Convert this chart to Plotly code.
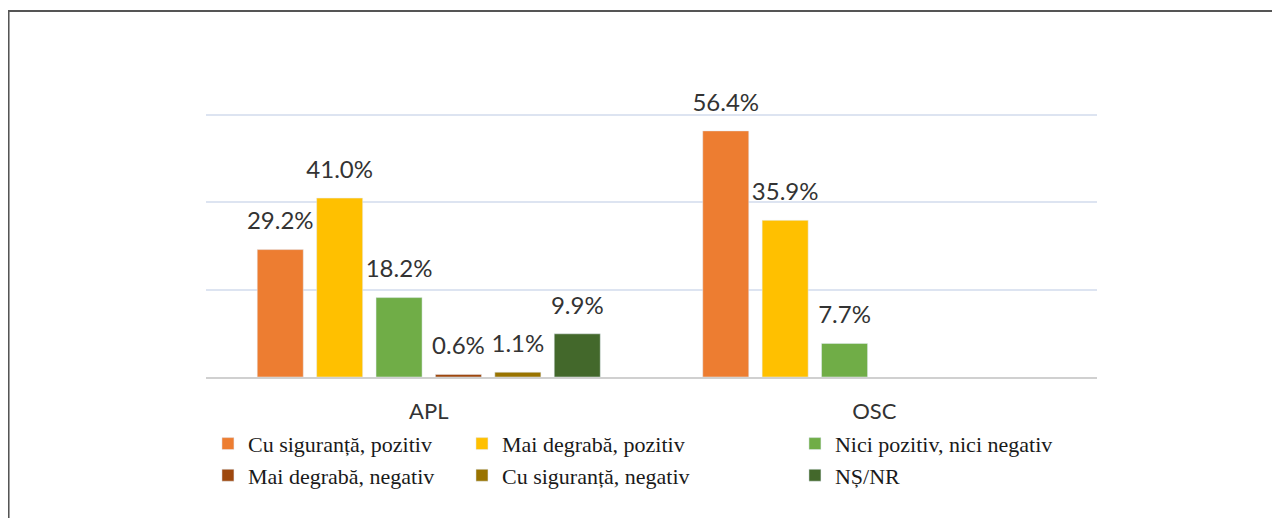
import plotly.graph_objects as go

categories = ["APL", "OSC"]
series_names = [
    "Cu siguranță, pozitiv",
    "Mai degrabă, pozitiv",
    "Nici pozitiv, nici negativ",
    "Mai degrabă, negativ",
    "Cu siguranță, negativ",
    "NȘ/NR",
]
values_cu_sig_poz = [29.2, 56.4]
values_mai_degr_poz = [41.0, 35.9]
values_nici = [18.2, 7.7]
values_mai_degr_neg = [0.6, None]
values_cu_sig_neg = [1.1, None]
values_ns_nr = [9.9, None]
series_values = [values_cu_sig_poz, values_mai_degr_poz, values_nici,
                 values_mai_degr_neg, values_cu_sig_neg, values_ns_nr]
colors = ["#ED7D31", "#FFC000", "#70AD47", "#9E480E", "#997300", "#43682B"]
legend_ids = ["legend", "legend2", "legend3", "legend", "legend2", "legend3"]

fig = go.Figure()
for name, vals, col, lg in zip(series_names, series_values, colors, legend_ids):
    fig.add_trace(go.Bar(
        x=categories, y=vals, name=name, marker_color=col,
        offsetgroup=name, alignmentgroup="a", legend=lg,
        hoverinfo="skip",
    ))
for name, vals in zip(series_names, series_values):
    fig.add_trace(go.Scatter(
        x=categories, y=vals, mode="markers+text",
        text=[None if v is None else f"{v:.1f}%" for v in vals],
        textposition="top center",
        textfont=dict(family="Lato", size=24, color="#333333"),
        marker=dict(size=21, color="rgba(0,0,0,0)"),
        offsetgroup=name, alignmentgroup="a",
        showlegend=False, cliponaxis=False, hoverinfo="skip",
    ))

legend_font = dict(family="Liberation Serif", size=22, color="#1a1a1a")
common_legend = dict(orientation="v", yanchor="top", xanchor="left",
                     y=-0.1735, bgcolor="rgba(0,0,0,0)", font=legend_font,
                     tracegroupgap=0, itemclick=False, itemdoubleclick=False)

fig.update_layout(
    width=1280, height=518,
    margin=dict(l=198, r=191, t=105, b=149),
    paper_bgcolor="white", plot_bgcolor="white",
    barmode="group", bargap=0.2, bargroupgap=0.225,
    scattermode="group", scattergap=0.2,
    legend=dict(x=0.0022, **common_legend),
    legend2=dict(x=0.2873, **common_legend),
    legend3=dict(x=0.661, **common_legend),
    xaxis=dict(
        showline=True, linecolor="#d0d0d0", linewidth=2,
        showgrid=False, ticks="",
        tickfont=dict(family="Lato", size=22, color="#333333"),
        ticklabelstandoff=14,
    ),
    yaxis=dict(
        range=[0, 60.5], tickvals=[20, 40, 60], showticklabels=False,
        showgrid=True, gridcolor="#dde4f1", gridwidth=2,
        zeroline=False, showline=False,
    ),
    shapes=[dict(
        type="path", xref="paper", yref="paper",
        path="M -0.2216,-0.6 L -0.2216,1.3864 L 1.3,1.3864",
        line=dict(color="#555555", width=2),
    )],
)

fig.write_html("out.html")
